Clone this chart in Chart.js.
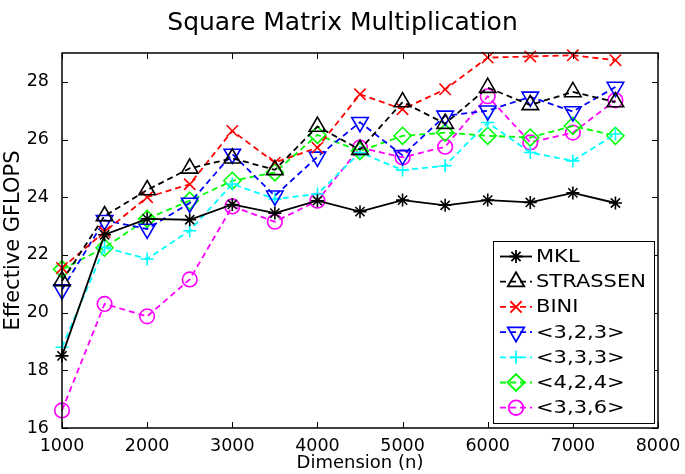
<!DOCTYPE html>
<html>
<head>
<meta charset="utf-8">
<script src="https://cdn.jsdelivr.net/npm/chart.js@4.4.1/dist/chart.umd.min.js"></script>
<style>
html, body { margin: 0; padding: 0; background: #fff; }
</style>
</head>
<body>
<canvas id="mycanvas" width="685" height="474"></canvas>
<script>
// matrix dimension n
var dims = [1000, 1500, 2000, 2500, 3000, 3500, 4000, 4500, 5000, 5500, 6000, 6500, 7000, 7500];

// effective GFLOPS per algorithm
var mkl      = [18.5, 22.7, 23.25, 23.22, 23.75, 23.45, 23.88, 23.5, 23.9, 23.72, 23.9, 23.82, 24.15, 23.8];
var strassen = [21.1, 23.35, 24.25, 25.0, 25.35, 24.95, 26.45, 25.65, 27.3, 26.55, 27.8, 27.2, 27.65, 27.3];
var bini     = [21.55, 22.8, 24.0, 24.45, 26.3, 25.2, 25.72, 27.57, 27.05, 27.74, 28.84, 28.88, 28.92, 28.75];
var alg323   = [20.8, 23.2, 22.9, 23.8, 25.5, 24.05, 25.4, 26.6, 25.45, 26.82, 27.0, 27.48, 26.97, 27.82];
var alg333   = [18.8, 22.26, 21.86, 22.84, 24.46, 23.94, 24.11, 25.55, 24.94, 25.09, 26.59, 25.55, 25.26, 26.19];
var alg424   = [21.5, 22.25, 23.25, 23.88, 24.57, 24.86, 26.16, 25.6, 26.13, 26.24, 26.13, 26.07, 26.47, 26.13];
var alg336   = [16.61, 20.3, 19.87, 21.15, 23.68, 23.15, 23.88, 25.72, 25.38, 25.75, 27.5, 25.9, 26.24, 27.36];

// axis ticks
var xTicks = [1000, 2000, 3000, 4000, 5000, 6000, 7000, 8000];
var yTicks = [16, 18, 20, 22, 24, 26, 28];

Chart.defaults.font.family = "'DejaVu Sans', sans-serif";
Chart.defaults.color = '#000';

function pts(ys) {
	return ys.map(function(v, i) { return { x: dims[i], y: v }; });
}

function series(label, ys, color, style, radius, dashed, rot) {
	return {
		label: label,
		data: pts(ys),
		borderColor: color,
		backgroundColor: 'rgba(0,0,0,0)',
		borderWidth: 1.8,
		borderDash: dashed ? [6, 4] : [],
		pointStyle: style,
		pointRadius: radius,
		pointHoverRadius: radius,
		pointBorderWidth: 1.6,
		pointBorderColor: color,
		pointBackgroundColor: 'rgba(0,0,0,0)',
		pointRotation: rot || 0,
		tension: 0,
		fill: false,
		clip: false
	};
}

var chartdata = {
	datasets: [
		series('MKL', mkl, '#000000', 'star', 6.5, false),
		series('STRASSEN', strassen, '#000000', 'triangle', 9.5, true),
		series('BINI', bini, '#ff0000', 'crossRot', 8, true),
		series('<3,2,3>', alg323, '#0000ff', 'triangle', 9.5, true, 180),
		series('<3,3,3>', alg333, '#00ffff', 'cross', 6.5, true),
		series('<4,2,4>', alg424, '#00ff00', 'rectRot', 8.5, true),
		series('<3,3,6>', alg336, '#ff00ff', 'circle', 7.3, true)
	]
};

// MATLAB style box, inward ticks and legend
var boxPlugin = {
	id: 'matlabBox',
	afterDatasetsDraw: function(chart) {
		var ctx = chart.ctx;
		var a = chart.chartArea;
		var xs = chart.scales.x, ys = chart.scales.y;
		ctx.save();
		ctx.strokeStyle = '#000';
		ctx.setLineDash([]);
		ctx.lineWidth = 1;
		ctx.beginPath();
		xTicks.forEach(function(v) {
			var px = Math.round(xs.getPixelForValue(v)) + 0.5;
			ctx.moveTo(px, a.bottom); ctx.lineTo(px, a.bottom - 6);
			ctx.moveTo(px, a.top); ctx.lineTo(px, a.top + 6);
		});
		yTicks.forEach(function(v) {
			var py = Math.round(ys.getPixelForValue(v)) + 0.5;
			ctx.moveTo(a.left, py); ctx.lineTo(a.left + 6, py);
			ctx.moveTo(a.right, py); ctx.lineTo(a.right - 6, py);
		});
		ctx.stroke();
		ctx.lineWidth = 1.5;
		ctx.strokeRect(a.left, a.top, a.right - a.left, a.bottom - a.top);

		// legend
		var lx = 493, ly = 241, lw = 161, lh = 182;
		ctx.fillStyle = '#fff';
		ctx.fillRect(lx, ly, lw, lh);
		ctx.lineWidth = 1;
		ctx.strokeRect(lx + 0.5, ly + 0.5, lw, lh);
		chart.data.datasets.forEach(function(ds, i) {
			var y = 256.5 + i * 25.2;
			ctx.strokeStyle = ds.borderColor;
			ctx.lineWidth = 1.8;
			ctx.setLineDash(ds.borderDash);
			ctx.beginPath();
			ctx.moveTo(500, y); ctx.lineTo(532, y);
			ctx.stroke();
			ctx.setLineDash([]);
			ctx.fillStyle = 'rgba(0,0,0,0)';
			Chart.helpers.drawPoint(ctx, {
				pointStyle: ds.pointStyle,
				rotation: ds.pointRotation,
				radius: ds.pointRadius,
				borderWidth: 1.6
			}, 516, y);
			ctx.save();
			ctx.translate(536, y);
			ctx.scale(1.2, 1);
			ctx.fillStyle = '#000';
			ctx.font = "17.5px 'DejaVu Sans'";
			ctx.textBaseline = 'middle';
			ctx.fillText(ds.label, 0, 1);
			ctx.restore();
		});
		ctx.restore();
	}
};

var ctx = document.getElementById('mycanvas');

var LineGraph = new Chart(ctx, {
	type: 'line',
	data: chartdata,
	plugins: [boxPlugin],
	options: {
		responsive: false,
		animation: false,
		devicePixelRatio: 1,
		layout: { padding: { left: 0, right: 0, top: 0, bottom: 0 } },
		plugins: {
			legend: { display: false },
			tooltip: { enabled: false },
			title: {
				display: true,
				text: 'Square Matrix Multiplication',
				color: '#000',
				font: { size: 25, weight: 'normal' },
				padding: { top: 8, bottom: 15 }
			}
		},
		scales: {
			x: {
				type: 'linear',
				min: 1000,
				max: 8000,
				afterBuildTicks: function(s) { s.ticks = xTicks.map(function(v) { return { value: v }; }); },
				afterFit: function(s) { s.height = 46; },
				grid: { display: false },
				border: { display: false },
				ticks: {
					font: { size: 17.5 }, color: '#000', padding: 0, maxRotation: 0,
					callback: function(v) { return String(v); }
				},
				title: { display: true, text: 'Dimension (n)', font: { size: 18 }, color: '#000', padding: 0 }
			},
			y: {
				type: 'linear',
				min: 16,
				max: 29,
				afterBuildTicks: function(s) { s.ticks = yTicks.map(function(v) { return { value: v }; }); },
				afterFit: function(s) { s.width = 62; },
				grid: { display: false },
				border: { display: false },
				ticks: { font: { size: 17.5 }, color: '#000', padding: 5 },
				title: { display: true, text: 'Effective GFLOPS', font: { size: 21 }, color: '#000', padding: { top: 1, bottom: 0 } }
			},
			y2: {
				type: 'linear',
				position: 'right',
				display: true,
				afterFit: function(s) { s.width = 27; },
				grid: { display: false },
				border: { display: false },
				ticks: { display: false }
			}
		}
	}
});
</script>
</body>
</html>
